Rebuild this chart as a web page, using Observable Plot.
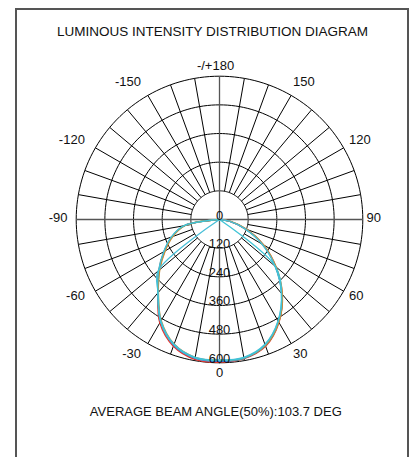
<!DOCTYPE html>
<html><head><meta charset="utf-8">
<script src="https://cdn.jsdelivr.net/npm/d3@7"></script>
<script src="https://cdn.jsdelivr.net/npm/@observablehq/plot@0.6"></script>
<style>
html,body{margin:0;padding:0;background:#fff;}
#wrap{position:relative;width:410px;height:457px;overflow:hidden;font-family:"Liberation Sans",Arial,sans-serif;color:#111;}
#frame{position:absolute;left:15px;top:8px;width:394px;height:470px;border:2px solid #555;box-sizing:border-box;}
#title{position:absolute;left:12.5px;width:400px;top:24.4px;text-align:center;font-size:13.5px;line-height:16px;white-space:nowrap;}
#chart{position:absolute;left:0;top:45px;}
#caption{position:absolute;left:15.8px;width:400px;top:404px;text-align:center;font-size:13px;line-height:16px;white-space:nowrap;}
</style></head>
<body><div id="wrap"><div id="frame"></div><div id="title">LUMINOUS INTENSITY DISTRIBUTION DIAGRAM</div><div id="chart"></div><div id="caption">AVERAGE BEAM ANGLE(50%):103.7 DEG</div></div>
<script>
// ---- data ----
const angles   = [-90,-80,-70,-60,-50,-40,-30,-20,-10,0,10,20,30,40,50,60,70,80,90];
const redC0    = [0,150,212,268,332,402,500,565,595,598,592,565,498,408,308,212,118,45,0];
const greenC45 = [0,148,210,265,328,398,492,558,588,592,590,562,496,406,306,208,115,42,0];
const blueC135 = [0,150,213,268,330,400,494,560,590,594,590,560,495,405,305,210,116,44,0];
const orangeC90= [0,145,208,262,326,398,488,555,586,590,588,560,497,410,310,215,125,48,0];
const cyanRay  = [0,null,null,null,336,400,490,556,586,588,586,556,490,403,303,205,112,42,0];
const cyanArc  = [0,152,215,270,333,402,493,558,588,590,588,558,492,404,305,null,null,null,0];

const ringTicks  = [0,120,240,360,480,600];
const ringLabels = ["0","120","240","360","480","600"];
const angleTicks  = [0,30,60,90,120,150,180,-150,-120,-90,-60,-30];
const angleLabels = ["0","30","60","90","120","150","-/+180","-150","-120","-90","-60","-30"];

// ---- geometry ----
const W = 410, H = 350, CX = 219, CY = 174, RPX = 143.3, RMAX = 600;
const ppu = RPX / RMAX;
const rad = a => a * Math.PI / 180;
const px = (a, r) => r * Math.sin(rad(a));
const py = (a, r) => -r * Math.cos(rad(a));

const series = [
  {values: redC0, color: "#e8352b"},
  {values: greenC45, color: "#7cc242"},
  {values: blueC135, color: "#3b78d8"},
  {values: orangeC90, color: "#c98a3c"},
  {values: cyanRay, color: "#48bfd8"},
  {values: cyanArc, color: "#3fc4d6"}
];

const rings = ringTicks.filter(v => v > 0);
const circleRows = rings.flatMap(v => d3.range(0, 361, 2).map(a => ({v, a})));
const spokes = d3.range(-170, 190, 10).filter(a => a % 90 !== 0);
const axes = [0, 90];

const labelRadius = a => (157 - 5 * Math.pow(Math.sin(rad(a)), 8)) / ppu;
const midRadius = 153.5 / ppu;
const angleRows = angleTicks.map((a, i) => ({a, label: angleLabels[i], s: Math.sin(rad(a))}));
const ringRows = ringTicks.map((v, i) => ({v, label: ringLabels[i]}));

const marks = [
  Plot.line(circleRows, {x: d => px(d.a, d.v), y: d => py(d.a, d.v), z: "v", stroke: "#000", strokeWidth: 1}),
  Plot.link(spokes, {x1: a => px(a, 120), y1: a => py(a, 120), x2: a => px(a, 600), y2: a => py(a, 600), stroke: "#000", strokeWidth: 1}),
  Plot.link(axes, {x1: a => px(a, 600), y1: a => py(a, 600), x2: a => px(a + 180, 600), y2: a => py(a + 180, 600), stroke: "#555", strokeWidth: 1.3})
];
for (const s of series) {
  const rows = angles.map((a, i) => ({a, I: s.values[i]})).filter(d => d.I != null);
  marks.push(Plot.line(rows, {x: d => px(d.a, d.I), y: d => py(d.a, d.I), stroke: s.color, strokeWidth: 1.3, curve: "catmull-rom"}));
}
const txt = {fontSize: 13, fill: "#111", fontFamily: "Liberation Sans, Arial, sans-serif"};
marks.push(
  Plot.text(angleRows.filter(d => d.s < -0.01), {x: d => px(d.a, labelRadius(d.a)), y: d => py(d.a, labelRadius(d.a)), text: "label", textAnchor: "end", dy: -1.5, ...txt}),
  Plot.text(angleRows.filter(d => d.s > 0.01), {x: d => px(d.a, labelRadius(d.a)), y: d => py(d.a, labelRadius(d.a)), text: "label", textAnchor: "start", dx: -5, dy: -1.5, ...txt}),
  Plot.text(angleRows.filter(d => d.a === 0), {x: d => px(d.a, midRadius), y: d => py(d.a, midRadius), text: "label", textAnchor: "middle", ...txt}),
  Plot.text(angleRows.filter(d => d.a === 180), {x: d => px(d.a, midRadius), y: d => py(d.a, midRadius), text: "label", textAnchor: "middle", dx: -4, ...txt}),
  Plot.text(ringRows, {x: 0, y: d => py(0, d.v), text: "label", textAnchor: "middle", lineAnchor: "bottom", ...txt})
);

const chart = Plot.plot({
  width: W, height: H,
  margin: 0,
  x: {domain: [-CX / ppu, (W - CX) / ppu], axis: null},
  y: {domain: [-(H - CY) / ppu, CY / ppu], axis: null},
  style: {background: "transparent", fontFamily: "Liberation Sans, Arial, sans-serif", fontSize: "13px", overflow: "visible"},
  marks
});
document.getElementById("chart").appendChild(chart);
</script></body></html>
